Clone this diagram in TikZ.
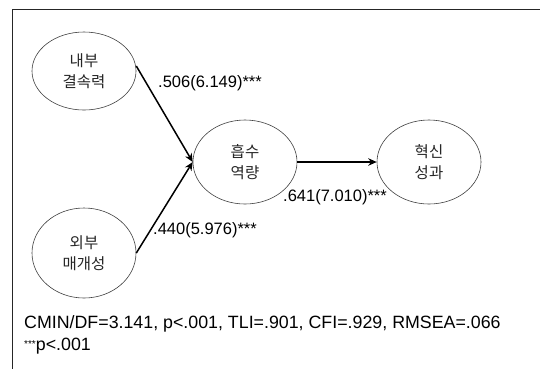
\documentclass[tikz,border=0pt]{standalone}
\usepackage{fontspec}
\setmainfont{Liberation Sans}
\newfontfamily\krfont{Noto Sans CJK KR}
\usetikzlibrary{arrows.meta,shapes.geometric}
\begin{document}
\begin{tikzpicture}[x=1pt,y=-1pt,
  latent/.style={draw=black!75,line width=0.6pt,ellipse,minimum width=104pt,minimum height=80pt,inner sep=0pt,align=center,font=\krfont\fontsize{15.5}{21}\selectfont,text=black!85},
  path/.style={line width=1.5pt,-{Stealth[length=8.5pt,width=7.5pt]}},
  coef/.style={font=\fontsize{17.8}{18}\selectfont,inner sep=0pt}]
\useasboundingbox (0,0) rectangle (540,368);
\clip (0,0) rectangle (540,368);
\fill[white] (0,0) rectangle (540,368);
\draw[line width=1pt,black!85] (12,380) -- (12,9.5) -- (560,9.5);
\node[latent,minimum height=78pt] (in) at (84,71) {내부\\결속력};
\node[latent,minimum height=90pt] (ex) at (84,253) {외부\\매개성};
\node[latent,minimum height=84pt] (ab) at (245,162) {흡수\\역량};
\node[latent,minimum height=84pt] (ip) at (429,162) {혁신\\성과};
\draw[path] (in.east) ++(0,-5) -- (ab.west);
\draw[path] (ex.east) -- (ab.west);
\draw[path] (ab.east) -- (ip.west);
\node[coef,font=\fontsize{16.5}{18}\selectfont] (c1) at (210,83) {.506(6.149)***};
\node[coef,font=\fontsize{16.5}{18}\selectfont] (c2) at (205,230) {.440(5.976)***};
\node[coef,font=\fontsize{16.5}{18}\selectfont] (c3) at (335,197) {.641(7.010)***};
\node[coef,anchor=west] (fit) at (24,324) {CMIN/DF=3.141, p<.001, TLI=.901, CFI=.929, RMSEA=.066};
\node[coef,anchor=west] (sig) at (24,346) {\raisebox{0.3ex}{\fontsize{10}{10}\selectfont ***}p<.001};
\end{tikzpicture}
\end{document}
